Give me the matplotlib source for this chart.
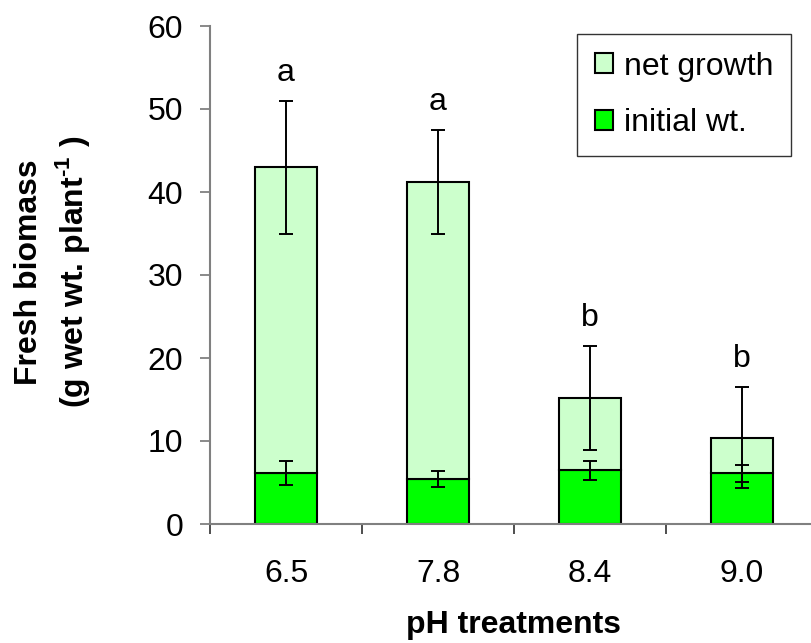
import numpy as np
import matplotlib
matplotlib.use('Agg')
from matplotlib import pyplot as plt

plt.rcParams['font.family'] = ['Liberation Sans', 'DejaVu Sans']
plt.rcParams['mathtext.fontset'] = 'custom'
plt.rcParams['mathtext.rm'] = 'Liberation Sans:bold'
plt.rcParams['mathtext.bf'] = 'Liberation Sans:bold'

ph_labels = ['6.5', '7.8', '8.4', '9.0']
initial_wt = [6.1, 5.4, 6.5, 6.1]
initial_se = [1.45, 1.0, 1.15, 1.0]
net_growth = [36.9, 35.8, 8.7, 4.3]
total_se = [8.0, 6.3, 6.3, 6.1]
letters = ['a', 'a', 'b', 'b']

fs = 23
x = np.arange(len(ph_labels))
total = np.array(initial_wt) + np.array(net_growth)

fig = plt.figure(figsize=(8.11, 6.43), dpi=100)
ax = fig.add_axes([210 / 811, 119 / 643, 608 / 811, 498 / 643])

w = 0.41
ax.bar(x, initial_wt, w, color='#00FF00', edgecolor='black', linewidth=1.5,
       label='initial wt.', zorder=2)
ax.bar(x, net_growth, w, bottom=initial_wt, color='#CCFFCC', edgecolor='black',
       linewidth=1.5, label='net growth', zorder=2)

ax.errorbar(x, initial_wt, yerr=initial_se, fmt='none', ecolor='black',
            elinewidth=1.4, capsize=4.7, capthick=1.4, zorder=3)
ax.errorbar(x, total, yerr=total_se, fmt='none', ecolor='black',
            elinewidth=1.4, capsize=4.7, capthick=1.4, zorder=3)

# significance letters just above the upper error bar
for i, txt in enumerate(letters):
    ax.text(x[i], total[i] + total_se[i] + 2.4, txt, ha='center', va='baseline',
            fontsize=fs)

ax.set_xlim(-0.5, 3.5)
ax.set_ylim(0, 60)
ax.set_yticks(range(0, 61, 10))
ax.set_xticks(x)
ax.set_xticklabels(ph_labels)
ax.set_xticks(np.arange(-0.5, 4, 1), minor=True)

for s in ['top', 'right']:
    ax.spines[s].set_visible(False)
for s in ['left', 'bottom']:
    ax.spines[s].set_color('#808080')
    ax.spines[s].set_linewidth(1.5)

ax.tick_params(axis='y', direction='out', length=7.2, width=1.3, color='#808080',
               labelsize=fs, pad=12)
ax.tick_params(axis='x', which='major', length=0, labelsize=fs, pad=25)
ax.tick_params(axis='x', which='minor', direction='out', length=7.2, width=1.3,
               color='#404040')

ax.set_xlabel('pH treatments', fontsize=fs, fontweight='bold', labelpad=15)

fig.text(37 / 811, 1 - 272 / 643, 'Fresh biomass', rotation=90, fontsize=fs,
         fontweight='bold', ha='center', va='baseline', rotation_mode='anchor')
fig.text(83 / 811, 1 - 272 / 643, r'(g wet wt. plant$^{\text{-1}}$ )',
         rotation=90, fontsize=fs, fontweight='bold', ha='center',
         va='baseline', rotation_mode='anchor')

handles, labels = ax.get_legend_handles_labels()
leg = ax.legend(handles[::-1], labels[::-1], loc='upper left',
                bbox_to_anchor=(577 / 811, 1 - 34 / 643),
                bbox_transform=fig.transFigure, fontsize=fs, frameon=True,
                fancybox=False, edgecolor='black', borderpad=0.55,
                handlelength=0.58, handleheight=0.58, handletextpad=0.35,
                labelspacing=0.84, borderaxespad=0)
leg.get_frame().set_linewidth(1.0)

fig.savefig('out.png', dpi=100)
